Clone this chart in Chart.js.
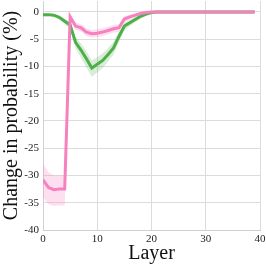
<!DOCTYPE html>
<html>
<head>
<meta charset="utf-8">
<script src="https://cdn.jsdelivr.net/npm/chart.js@4"></script>
<style>
  html, body { margin: 0; padding: 0; background: #fff; }
  #wrap { width: 266px; height: 266px; }
</style>
</head>
<body>
<div id="wrap"><canvas id="myChart" width="266" height="266"></canvas></div>
<script>
const layers = [0,1,2,3,4,5,6,7,8,9,10,11,12,13,14,15,16,17,18,19,20,21,22,23,24,25,26,27,28,29,30,31,32,33,34,35,36,37,38,39];

const greenMean = [-0.5,-0.5,-0.6,-1.0,-1.7,-2.4,-5.6,-7.0,-8.6,-10.3,-9.6,-8.9,-7.8,-6.6,-4.5,-2.6,-2.0,-1.4,-0.8,-0.4,-0.1,0,0,0,0,0,0,0,0,0,0,0,0,0,0,0,0,0,0,0];
const greenLow = [-0.8,-0.8,-0.9,-1.4,-2.2,-3.1,-6.6,-8.4,-10.2,-11.9,-11.1,-10.3,-9.1,-7.8,-5.5,-3.4,-2.6,-1.9,-1.2,-0.7,-0.3,-0.1,-0.1,-0.1,-0.1,-0.1,-0.1,-0.1,-0.1,-0.1,-0.1,-0.1,-0.1,-0.1,-0.1,-0.1,-0.1,-0.1,-0.1,-0.1];
const greenHigh = [-0.3,-0.3,-0.4,-0.7,-1.3,-1.8,-4.6,-5.8,-7.2,-8.9,-8.3,-7.6,-6.6,-5.5,-3.6,-2.0,-1.5,-1.0,-0.5,-0.2,0,0.1,0.1,0.1,0.1,0.1,0.1,0.1,0.1,0.1,0.1,0.1,0.1,0.1,0.1,0.1,0.1,0.1,0.1,0.1];

const pinkMean = [-30.8,-32.2,-32.6,-32.5,-32.5,-0.9,-2.6,-2.9,-3.7,-4.0,-3.9,-3.7,-3.4,-3.1,-2.9,-1.3,-0.9,-0.6,-0.3,-0.1,0,0,0,0,0,0,0,0,0,0,0,0,0,0,0,0,0,0,0,0];
const pinkLow = [-34.0,-35.3,-35.6,-35.5,-35.5,-1.6,-3.3,-3.6,-4.4,-4.7,-4.6,-4.4,-4.1,-3.8,-3.6,-1.9,-1.4,-1.0,-0.6,-0.3,-0.1,-0.1,-0.1,-0.1,-0.1,-0.1,-0.1,-0.1,-0.1,-0.1,-0.1,-0.1,-0.1,-0.1,-0.1,-0.1,-0.1,-0.1,-0.1,-0.1];
const pinkHigh = [-27.8,-29.4,-30.0,-30.0,-30.0,-0.3,-2.0,-2.2,-3.0,-3.3,-3.2,-3.0,-2.7,-2.4,-2.2,-0.8,-0.5,-0.3,-0.1,0,0.1,0.1,0.1,0.1,0.1,0.1,0.1,0.1,0.1,0.1,0.1,0.1,0.1,0.1,0.1,0.1,0.1,0.1,0.1,0.1];

const xTicks = [0, 10, 20, 30, 40];
const yTicks = [0, -5, -10, -15, -20, -25, -30, -35, -40];

const green = "#4daf4a";
const pink = "#f781bf";
const greenBand = "rgba(77, 175, 74, 0.22)";
const pinkBand = "rgba(247, 129, 191, 0.25)";

function pts(arr) {
  return arr.map((v, i) => ({ x: layers[i], y: v }));
}

function bandSet(arr, color, fillTo, order) {
  return {
    data: pts(arr),
    borderWidth: 0,
    pointRadius: 0,
    backgroundColor: color,
    fill: fillTo,
    order: order,
  };
}

// drop the label-overflow padding so layout.padding alone places the plot
function noPad(axis) {
  axis.paddingTop = 0;
  axis.paddingBottom = 0;
  axis.paddingLeft = 0;
  axis.paddingRight = 0;
}

const serif = "'Liberation Serif', 'DejaVu Serif', serif";

new Chart("myChart", {
  type: "line",
  data: {
    datasets: [
      // 0,1: pink band ; 2: pink line ; 3,4: green band ; 5: green line
      bandSet(pinkHigh, pinkBand, false, 1),
      bandSet(pinkLow, pinkBand, 0, 1),
      {
        data: pts(pinkMean),
        borderColor: pink,
        borderWidth: 3,
        pointRadius: 0,
        fill: false,
        tension: 0,
        order: 0,
      },
      bandSet(greenHigh, greenBand, false, 3),
      bandSet(greenLow, greenBand, 3, 3),
      {
        data: pts(greenMean),
        borderColor: green,
        borderWidth: 3,
        pointRadius: 0,
        fill: false,
        tension: 0,
        order: 2,
      },
    ],
  },
  options: {
    responsive: false,
    animation: false,
    layout: { padding: { top: 1, right: 6, left: 0, bottom: 0 } },
    plugins: {
      legend: { display: false },
      tooltip: { enabled: false },
    },
    scales: {
      x: {
        type: "linear",
        min: 0,
        max: 40,
        afterBuildTicks: (axis) => { axis.ticks = xTicks.map((v) => ({ value: v })); },
        afterFit: (axis) => { axis.height = 36; noPad(axis); },
        grid: { color: "#dcdcdc", lineWidth: 1, drawTicks: false },
        border: { color: "#d0d0d0" },
        ticks: {
          color: "#222",
          padding: 3,
          maxRotation: 0,
          font: { family: serif, size: 11 },
        },
        title: {
          display: true,
          text: "Layer",
          color: "#111",
          padding: { top: 0, bottom: 0 },
          font: { family: serif, size: 20 },
        },
      },
      y: {
        min: -40,
        max: 2,
        afterBuildTicks: (axis) => { axis.ticks = yTicks.map((v) => ({ value: v })); },
        afterFit: (axis) => { axis.width = 43; noPad(axis); },
        grid: { color: "#dcdcdc", lineWidth: 1, drawTicks: false },
        border: { color: "#d0d0d0" },
        ticks: {
          color: "#222",
          padding: 4,
          font: { family: serif, size: 11 },
        },
        title: {
          display: true,
          text: "Change in probability (%)",
          color: "#111",
          padding: { top: 0, bottom: 0 },
          font: { family: serif, size: 20 },
        },
      },
    },
  },
});
</script>
</body>
</html>
